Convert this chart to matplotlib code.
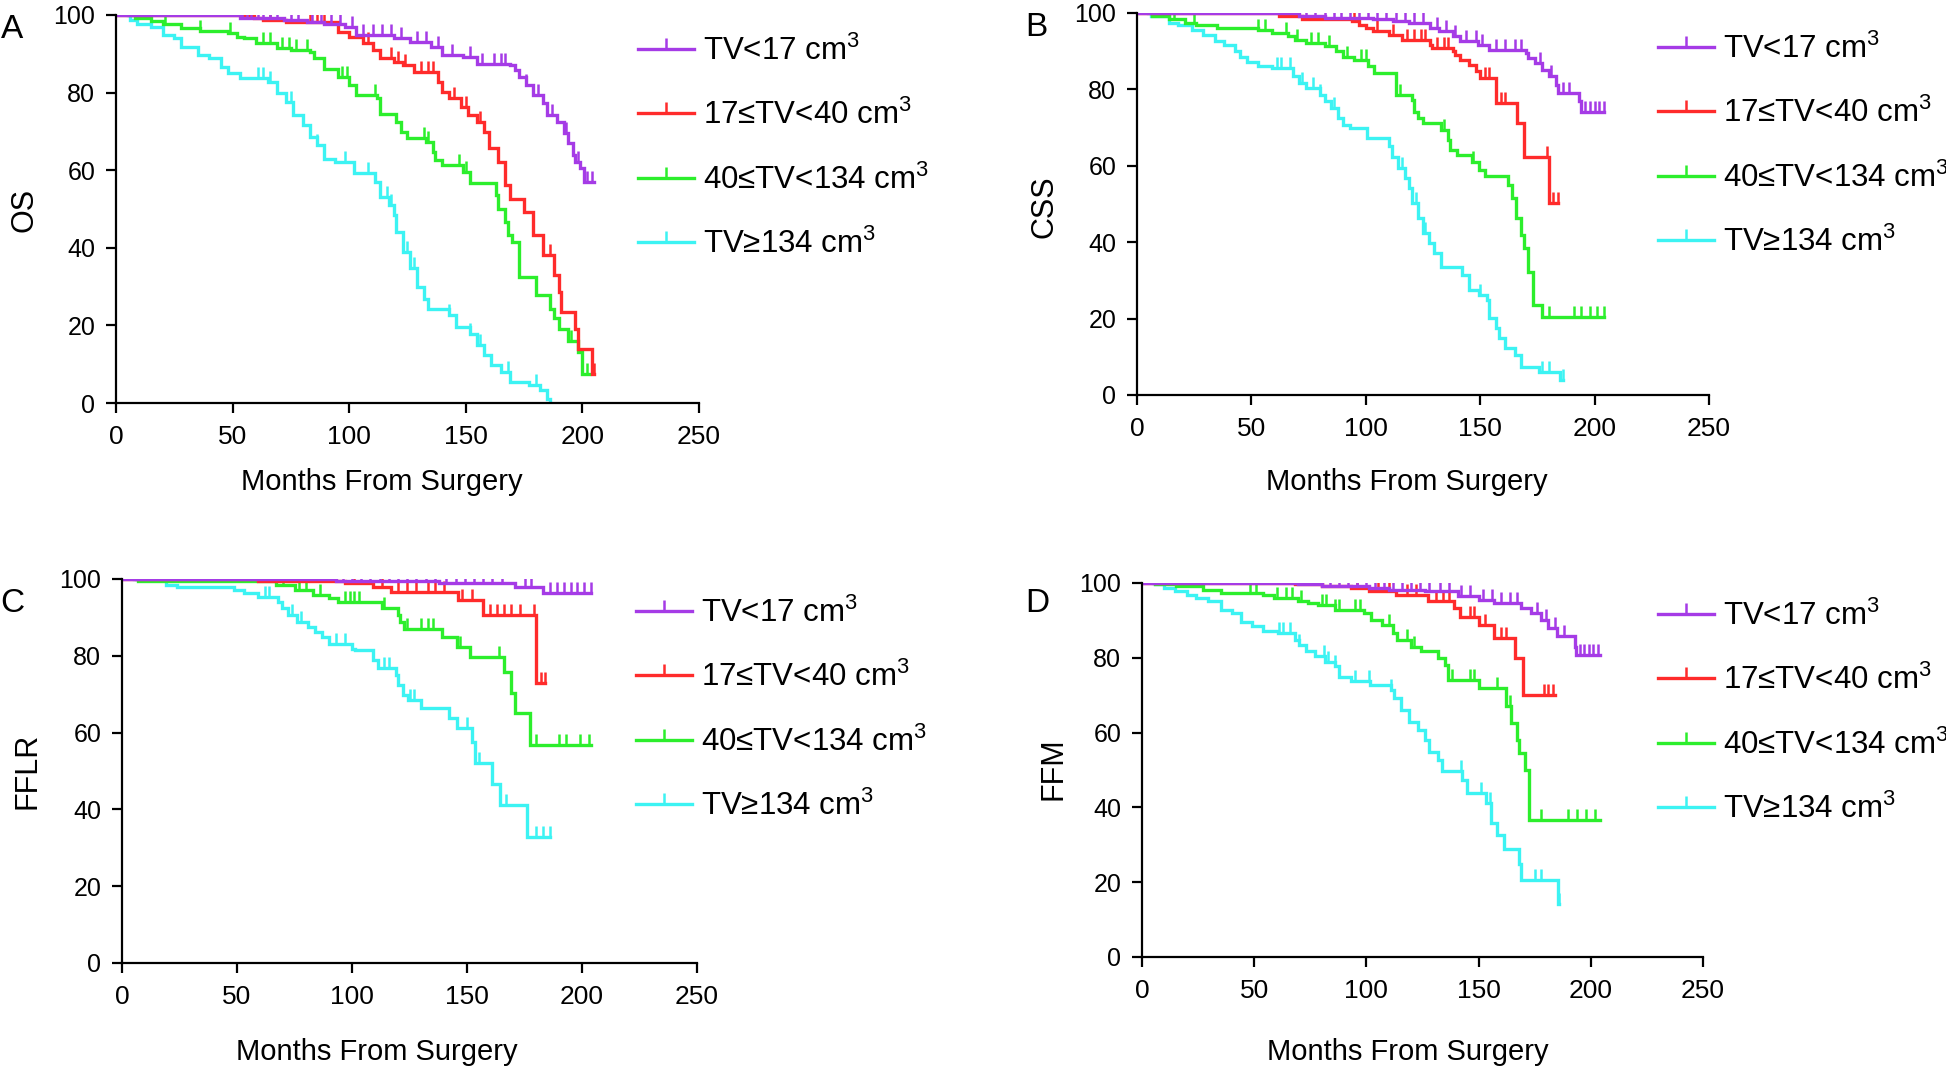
import numpy as np
import matplotlib
matplotlib.use("Agg")
import matplotlib.pyplot as plt
from matplotlib.lines import Line2D

plt.rcParams['font.family'] = ['Liberation Sans', 'DejaVu Sans']
plt.rcParams['mathtext.fontset'] = 'custom'
plt.rcParams['mathtext.rm'] = 'Liberation Sans'

group_labels = ["TV<17 cm$^3$", "17≤TV<40 cm$^3$", "40≤TV<134 cm$^3$", "TV≥134 cm$^3$"]
group_colors = ["#a53be6", "#ff2b2b", "#2cee2c", "#3cf3f3"]
panel_letters = ["A", "B", "C", "D"]
panel_ylabels = ["OS", "CSS", "FFLR", "FFM"]
x_ticks = [0, 50, 100, 150, 200, 250]
y_ticks = [0, 20, 40, 60, 80, 100]

# ---- A: OS ----
os_g1_t = [53, 72, 82, 89, 98, 103, 119, 126, 135, 140, 149, 155, 169, 171, 173, 176, 179, 183, 185, 189, 192, 194, 196, 197, 199, 200.5]
os_g1_s = [99.2, 98.7, 98.3, 97.8, 97, 94.8, 94, 93, 91.8, 89.7, 89.2, 87.5, 87, 85.8, 84, 82, 79.4, 77.2, 74.2, 72.5, 69.5, 66.9, 63.9, 62.2, 60.5, 57]
os_g1_c = [33, 41, 44, 54, 56, 58, 61, 63, 66, 69, 75, 78, 84, 88, 92, 96, 101, 106, 110, 114, 118, 122, 129, 133, 138, 144, 152, 157, 162, 165, 167, 176, 181, 187, 193, 198, 202, 204]
os_g2_t = [59, 63, 73, 95, 100, 106, 110, 113, 119, 123, 128, 138, 140, 143, 148, 151, 155, 158, 160, 164, 167, 169, 175, 179, 183, 188, 190, 191, 197, 198, 204]
os_g2_s = [99.1, 98.7, 98.3, 95.7, 94.4, 92.7, 91, 88.8, 88, 87.1, 85.4, 82.8, 80.2, 78.5, 76.4, 74.2, 72.5, 69.9, 65.6, 62.2, 56.1, 52.7, 49.3, 43.2, 38.1, 32.9, 28.6, 23.5, 19.2, 14, 7.6]
os_g2_c = [54, 56, 66, 83, 86, 89, 108, 118, 121, 124, 131, 134, 136, 145, 150, 156, 186, 205]
os_g3_t = [8, 15, 20, 28, 36, 48, 52, 55, 60, 69, 75, 83, 85, 89, 95, 100, 103, 112, 113, 120, 122, 125, 133, 136, 137, 140, 149, 152, 163, 164, 167, 168, 170, 173, 180, 186, 188, 190, 194, 198, 200]
os_g3_s = [99.1, 98.5, 97.6, 96.6, 95.9, 95.3, 94.4, 94, 92.7, 91.6, 91, 90.5, 88.8, 86.2, 84.1, 81.9, 79.4, 78.5, 74.6, 72.5, 69.9, 68.2, 67.3, 64.7, 62.6, 61.3, 59.6, 56.6, 53.6, 50.1, 46.7, 43.2, 41.5, 32.5, 27.8, 24.3, 21.8, 19.2, 16, 13.2, 7.6]
os_g3_c = [8, 21, 36, 49, 63, 66, 71, 74, 77, 82, 97, 99, 111, 132, 134, 147, 150, 195, 202]
os_g4_t = [6, 9, 15, 20, 25, 28, 35, 40, 45, 48, 53, 65, 69, 73, 76, 80, 83, 86, 89, 94, 102, 111, 113, 117, 119, 120, 123, 126, 129, 132, 134, 143, 146, 152, 155, 158, 161, 165, 169, 177, 182, 185, 186]
os_g4_s = [98.7, 97.8, 97, 94.8, 94, 91.8, 89.7, 88.8, 86.7, 85, 83.7, 82.8, 79.8, 77.6, 74.2, 71.6, 68.6, 66.5, 63, 62.2, 59.2, 57, 53.1, 51, 48.4, 44.1, 39, 34.7, 29.9, 26.9, 24.3, 22.6, 19.6, 17.9, 14.9, 12.3, 9.7, 8, 5.4, 4.6, 3.3, 1.1, 0]
os_g4_c = [6, 61, 63, 66, 75, 86, 98, 108, 116, 118, 125, 128, 143, 152, 156, 168, 180]

# ---- B: CSS ----
css_g1_t = [71, 82, 103, 112, 119, 128, 132, 138, 141, 149, 154, 170, 171, 174, 177, 180, 183, 184, 193, 194]
css_g1_s = [99.1, 98.7, 98.3, 97.8, 97.4, 96.1, 95.2, 93.9, 92.6, 91.7, 90.4, 89.5, 88.2, 86.9, 85.2, 83.4, 81.2, 79, 76.9, 74.2]
css_g1_c = [32, 40, 43, 54, 56, 58, 60, 62, 64, 67, 70, 74, 78, 82, 86, 89, 93, 97, 101, 105, 109, 113, 117, 121, 125, 131, 135, 139, 144, 148, 151, 157, 161, 165, 168, 176, 181, 186, 189, 196, 198, 200, 202, 204]
css_g2_t = [62, 72, 94, 97, 100, 103, 110, 116, 128, 129, 138, 139, 141, 145, 148, 150, 157, 166, 169, 180]
css_g2_s = [99.3, 98.3, 97.8, 96.9, 96.1, 95.2, 94.3, 93, 91.7, 90.8, 90, 89.1, 87.8, 86.5, 84.7, 83, 76.4, 71.2, 62.4, 50.2]
css_g2_c = [53, 57, 59, 65, 95, 105, 112, 118, 121, 124, 126, 131, 134, 136, 152, 154, 159, 161, 179, 182, 184]
css_g3_t = [6.5, 14, 21, 26, 35, 53, 59, 66, 69, 74, 82, 87, 90, 95, 101, 103.5, 113, 120, 121, 123, 125, 133, 136, 137, 140, 146.5, 149.5, 152, 162, 164, 165.5, 168, 169, 171, 173, 177]
css_g3_s = [99.1, 98.3, 97.4, 96.9, 96.1, 95.6, 94.8, 93.9, 93, 92.1, 91.3, 90, 88.6, 87.8, 86, 84.3, 78.6, 77.3, 74.2, 72.5, 71.2, 69.4, 66.8, 64.2, 62.9, 61.1, 59, 57.2, 55, 51.5, 46.3, 41.9, 38.4, 32.3, 23.6, 20.5]
css_g3_c = [16, 25, 53, 56, 65, 70, 76, 79, 84, 92, 98, 100, 115, 134, 147, 180, 191, 194, 198, 201, 204]
css_g4_t = [6, 14, 18, 24, 29, 34, 38, 43, 45, 48, 53, 59, 68, 71, 74, 80, 82, 85, 88, 90, 93, 100.5, 110, 111.5, 114, 117, 119, 120, 123, 125, 127.5, 130, 133, 142, 145, 149.5, 153, 154, 157, 158, 161, 165, 168, 175.5, 185]
css_g4_s = [99.1, 97.4, 96.9, 95.6, 94.3, 92.6, 91.7, 90, 88.6, 87.3, 86, 85.6, 83.4, 81.7, 80.3, 78.6, 76.9, 75.1, 72.5, 70.7, 69.9, 67.2, 65.1, 62.4, 59.4, 56.8, 54.1, 50.2, 46.3, 42.4, 39.7, 37.1, 33.6, 31.4, 27.5, 26.2, 24.9, 20.1, 17.5, 14.8, 12.2, 10.5, 7.4, 6.1, 3.9]
css_g4_c = [5, 61, 63, 67, 72, 77, 80, 86, 116, 122, 126, 150, 177, 180, 186]

# ---- C: FFLR ----
fflr_g1_t = [93, 138, 171, 183]
fflr_g1_s = [99.6, 98.9, 98, 96.3]
fflr_g1_c = [25, 33, 38, 42, 54, 57, 60, 62, 65, 69, 72, 76, 80, 84, 88, 92, 96, 100, 104, 108, 112, 116, 120, 124, 128, 132, 136, 141, 145, 149, 153, 157, 161, 165, 175, 178, 186, 189, 192, 195, 198, 201, 204]
fflr_g2_t = [59, 97, 109, 117, 146, 157, 180]
fflr_g2_s = [99.6, 98.9, 98, 96.7, 94.5, 90.6, 72.8]
fflr_g2_c = [53, 55, 57, 101, 113, 120, 124, 128, 133, 136, 140, 148, 152, 160, 163, 166, 169, 173, 179, 182, 184]
fflr_g3_t = [7, 67, 75, 83, 90, 94, 113, 120, 121, 122.5, 139, 145.5, 151.5, 166, 169, 171, 177.5]
fflr_g3_s = [99.4, 98.4, 97.1, 95.8, 95, 94.1, 92.4, 90.6, 88.9, 87.1, 85, 82.4, 79.8, 75.8, 70.2, 65, 56.7]
fflr_g3_c = [8, 14, 20, 24, 28, 34, 39, 48, 51, 70, 77, 80, 86, 97, 99, 101, 103, 114, 124, 130, 133, 135, 147, 164, 180, 190, 193, 199, 203]
fflr_g4_t = [19, 24, 48.5, 53, 59, 68, 69.5, 72, 76, 81, 84, 87, 90, 100, 101.5, 109, 111.5, 119, 120, 122, 124.5, 130, 142, 145.5, 152, 153.5, 161, 164.5, 176]
fflr_g4_s = [98.4, 98, 97.1, 96.3, 95.4, 94.1, 92.4, 90.6, 88.9, 87.6, 86.3, 85, 83.2, 81.9, 81.5, 78.9, 76.7, 75, 72.4, 69.8, 68.5, 66.3, 63.7, 61.1, 57.6, 52, 46.7, 41.1, 32.8]
fflr_g4_c = [6, 9, 17, 62, 64, 74, 78, 93, 97, 114, 116, 125, 127, 150, 155, 167, 180, 183, 186]

# ---- D: FFM ----
ffm_g1_t = [69.5, 80, 92, 101, 110, 126, 141, 150, 157, 169, 173.5, 178, 181, 185, 193, 193.6]
ffm_g1_s = [99.6, 99.3, 99.1, 98.7, 98.2, 97.8, 96.4, 95.5, 94.6, 93.3, 92, 90.2, 87.9, 85.7, 83, 80.8]
ffm_g1_c = [32, 40, 43, 54, 57, 60, 62, 65, 68, 72, 76, 80, 84, 88, 92, 96, 100, 104, 108, 112, 116, 120, 124, 128, 133, 137, 142, 146, 152, 156, 160, 164, 167, 176, 180, 184, 188, 195, 197, 199, 201, 203]
ffm_g2_t = [68, 80, 93, 101, 113, 127.5, 139, 141.5, 150, 157, 166, 170]
ffm_g2_s = [99.6, 99.1, 98.7, 97.8, 96.9, 95.1, 93.3, 91, 88.8, 85.3, 79.9, 70.1]
ffm_g2_c = [53, 55, 58, 62, 66, 96, 105, 110, 118, 122, 131, 134, 137, 146, 148, 153, 160, 162, 179, 181, 183]
ffm_g3_t = [6, 15, 27, 35, 54, 59, 69.5, 74, 78.5, 86, 99, 102, 107, 112, 113.5, 120, 124.5, 132, 135, 136.5, 150, 162, 164.5, 167, 168, 170.5, 172.5]
ffm_g3_s = [99.6, 99.1, 98.2, 97.3, 96.9, 96, 95.1, 94.6, 94.2, 92.9, 92, 90.2, 88.8, 86.6, 84.8, 83, 81.7, 79.9, 78.1, 74.1, 71.9, 67, 62.5, 58, 54.5, 50, 36.6]
ffm_g3_c = [8, 9, 16, 21, 25, 48, 51, 60, 64, 67, 71, 80, 82, 86, 88, 95, 97, 110, 118, 121, 138, 146, 148, 158, 164, 178, 190, 194, 198, 202]
ffm_g4_t = [6, 10, 14.5, 20, 24, 29.5, 35, 40, 44, 49, 54, 60.5, 68, 70, 73, 77, 81.5, 86, 88, 93, 101.5, 111, 112.5, 115.5, 119, 123, 126, 128, 132, 133.5, 142.5, 145, 153.5, 155.5, 158, 161.5, 168, 169, 185.5]
ffm_g4_s = [99.6, 98.7, 97.8, 96.9, 96, 95.1, 92.9, 92, 89.7, 88.4, 87.1, 86.6, 84.8, 83.5, 81.7, 80.4, 79, 77.7, 75, 73.7, 72.8, 71.4, 69.2, 66.1, 62.9, 60.7, 58, 54.9, 52.7, 49.6, 47.3, 43.8, 41.1, 35.7, 32.6, 29, 25, 20.5, 14.3]
ffm_g4_c = [5, 7, 61, 63, 66, 70, 81, 83, 86, 95, 101, 111, 142, 151, 155, 175, 178, 186]

group_starts = [0, 0, 6, 5]
os_ends = [205, 205, 203, 186]
css_ends = [204, 184, 204, 186]
fflr_ends = [204, 184, 204, 186]
ffm_ends = [204, 184, 204, 186]

panels = [
    ([(os_g1_t, os_g1_s, os_g1_c), (os_g2_t, os_g2_s, os_g2_c), (os_g3_t, os_g3_s, os_g3_c), (os_g4_t, os_g4_s, os_g4_c)], os_ends),
    ([(css_g1_t, css_g1_s, css_g1_c), (css_g2_t, css_g2_s, css_g2_c), (css_g3_t, css_g3_s, css_g3_c), (css_g4_t, css_g4_s, css_g4_c)], css_ends),
    ([(fflr_g1_t, fflr_g1_s, fflr_g1_c), (fflr_g2_t, fflr_g2_s, fflr_g2_c), (fflr_g3_t, fflr_g3_s, fflr_g3_c), (fflr_g4_t, fflr_g4_s, fflr_g4_c)], fflr_ends),
    ([(ffm_g1_t, ffm_g1_s, ffm_g1_c), (ffm_g2_t, ffm_g2_s, ffm_g2_c), (ffm_g3_t, ffm_g3_s, ffm_g3_c), (ffm_g4_t, ffm_g4_s, ffm_g4_c)], ffm_ends),
]

W, H = 1946, 1070
fig = plt.figure(figsize=(W / 100, H / 100), dpi=100)


def px(x0, y0, x1, y1):
    # pixel box (top-left origin) -> figure fraction rect
    return [x0 / W, 1 - y1 / H, (x1 - x0) / W, (y1 - y0) / H]


axes_boxes = [px(116, 15, 699, 403), px(1137, 13, 1709, 395),
              px(122, 579, 697, 963), px(1142, 583, 1703, 957)]
letter_pos = [(12, 30), (1036, 28), (12, 604), (1037, 604)]
ylabel_pos = [(24, 210), (1045, 207), (27, 771), (1054, 769)]
xlabel_pos = [(382, 482), (1407, 482), (377, 1052), (1408, 1052)]
legend_pos = [(638, 36), (1658, 34), (636, 598), (1658, 601)]


def km_curve(ax, start, t, s, end, cens, color):
    x = np.array([start] + list(t) + [end], dtype=float)
    y = np.array([100.0] + list(s) + [s[-1]], dtype=float)
    ax.step(x, y, where="post", color=color, lw=2.4, solid_joinstyle="miter")
    c = np.array(cens, dtype=float)
    idx = np.searchsorted(x, c, side="right") - 1
    ax.plot(c, y[np.clip(idx, 0, len(y) - 1)], ls="none", marker=2,
            ms=8, mew=1.8, color=color)


for k, (groups, ends) in enumerate(panels):
    ax = fig.add_axes(axes_boxes[k])
    for g in [3, 2, 1, 0]:
        t, s, cens = groups[g]
        km_curve(ax, group_starts[g], t, s, ends[g], cens, group_colors[g])
    ax.set_xlim(0, 250)
    ax.set_ylim(0, 100)
    ax.set_xticks(x_ticks)
    ax.set_yticks(y_ticks)
    for side in ["top", "right"]:
        ax.spines[side].set_visible(False)
    for side in ["left", "bottom"]:
        ax.spines[side].set_linewidth(1.6)
    ax.tick_params(direction="out", length=7, width=1.6, labelsize=18)
    ax.tick_params(axis="x", pad=9, labelsize=19)
    ax.tick_params(axis="y", pad=8)
    for lab in ax.get_xticklabels() + ax.get_yticklabels():
        lab.set_family(["Liberation Sans Narrow", "DejaVu Sans Condensed", "Liberation Sans"])
    ax.patch.set_alpha(0)

    handles = [Line2D([], [], color=c, lw=2.4, marker=2, ms=8, mew=1.8) for c in group_colors]
    lx, ly = legend_pos[k]
    ax.legend(handles, group_labels, loc="upper left", bbox_to_anchor=(lx / W, 1 - ly / H),
              bbox_transform=fig.transFigure, frameon=False, fontsize=22.5, numpoints=1,
              handlelength=1.78, handletextpad=0.3, labelspacing=1.05,
              borderpad=0, borderaxespad=0)

    fig.text(letter_pos[k][0] / W, 1 - letter_pos[k][1] / H, panel_letters[k],
             fontsize=24, ha="center", va="center")
    fig.text(ylabel_pos[k][0] / W, 1 - ylabel_pos[k][1] / H, panel_ylabels[k],
             fontsize=22, rotation=90, ha="center", va="center")
    fig.text(xlabel_pos[k][0] / W, 1 - xlabel_pos[k][1] / H, "Months From Surgery",
             fontsize=21, ha="center", va="center")

fig.savefig("out.png", dpi=100)
